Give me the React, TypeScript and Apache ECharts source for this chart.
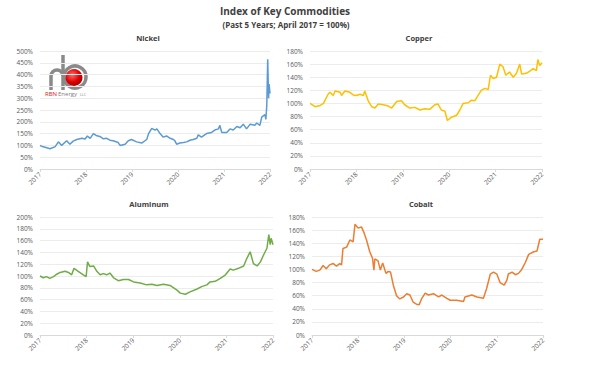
import React, { useEffect, useRef } from "react";
import * as echarts from "echarts";

// x values: years since April 2017 (0 = Apr 2017, 5 = Apr 2022); y values: % of April 2017
const nickelT = [0, 0.05, 0.11, 0.22, 0.33, 0.4, 0.47, 0.58, 0.65, 0.72, 0.8, 0.91, 0.98, 1.03, 1.09, 1.16, 1.22, 1.3, 1.38, 1.45, 1.52, 1.59, 1.7, 1.74, 1.85, 1.92, 1.99, 2.1, 2.21, 2.32, 2.36, 2.43, 2.5, 2.54, 2.61, 2.68, 2.75, 2.83, 2.9, 2.93, 2.97, 3.04, 3.12, 3.19, 3.26, 3.33, 3.41, 3.44, 3.51, 3.62, 3.73, 3.8, 3.88, 3.91, 3.95, 4.06, 4.13, 4.2, 4.28, 4.35, 4.42, 4.49, 4.57, 4.67, 4.71, 4.78, 4.82, 4.89, 4.91, 4.93, 4.95, 4.97, 4.98, 5.0];
const nickelV = [100, 95, 92, 86, 95, 115, 100, 120, 105, 118, 125, 130, 127, 140, 130, 150, 142, 138, 128, 130, 122, 120, 112, 100, 105, 120, 125, 115, 110, 125, 150, 172, 165, 170, 150, 135, 140, 130, 125, 120, 105, 110, 112, 115, 122, 125, 130, 145, 135, 150, 155, 165, 170, 185, 155, 155, 170, 165, 180, 175, 190, 170, 190, 185, 195, 185, 220, 230, 210, 270, 465, 300, 360, 320];

const copperT = [0, 0.11, 0.22, 0.29, 0.39, 0.43, 0.5, 0.54, 0.65, 0.68, 0.75, 0.86, 0.93, 1.0, 1.08, 1.15, 1.18, 1.26, 1.33, 1.4, 1.47, 1.58, 1.69, 1.76, 1.87, 1.97, 2.04, 2.15, 2.26, 2.37, 2.47, 2.58, 2.69, 2.76, 2.83, 2.91, 2.96, 3.05, 3.16, 3.23, 3.3, 3.41, 3.48, 3.55, 3.62, 3.69, 3.77, 3.84, 3.89, 3.95, 4.02, 4.09, 4.16, 4.22, 4.3, 4.38, 4.45, 4.52, 4.56, 4.66, 4.73, 4.81, 4.88, 4.91, 4.95, 5.0];
const copperV = [100, 95, 97, 100, 114, 117, 112, 119, 117, 112, 119, 117, 113, 112, 114, 112, 119, 103, 95, 93, 99, 98, 96, 93, 103, 104, 98, 93, 94, 90, 92, 91, 98, 99, 90, 88, 74, 79, 82, 90, 100, 101, 105, 104, 112, 120, 123, 121, 143, 138, 140, 160, 156, 143, 148, 140, 146, 160, 145, 146, 149, 153, 150, 167, 158, 162];

const aluminumT = [0, 0.07, 0.14, 0.21, 0.29, 0.36, 0.43, 0.54, 0.61, 0.68, 0.73, 0.82, 0.93, 0.99, 1.02, 1.07, 1.15, 1.22, 1.29, 1.36, 1.43, 1.5, 1.58, 1.68, 1.79, 1.9, 2.01, 2.15, 2.29, 2.4, 2.51, 2.65, 2.79, 2.94, 3.01, 3.12, 3.22, 3.37, 3.47, 3.58, 3.65, 3.76, 3.87, 3.98, 4.08, 4.15, 4.26, 4.37, 4.44, 4.51, 4.58, 4.66, 4.73, 4.8, 4.87, 4.91, 4.94, 4.96, 5.0];
const aluminumV = [100, 97, 99, 96, 99, 103, 106, 108, 106, 102, 113, 108, 102, 99, 124, 116, 117, 108, 102, 104, 102, 105, 97, 92, 94, 94, 90, 88, 85, 86, 84, 86, 84, 76, 71, 69, 73, 78, 82, 85, 90, 91, 96, 102, 112, 110, 113, 117, 130, 141, 121, 117, 124, 136, 147, 170, 153, 164, 153];

const cobaltT = [0, 0.09, 0.17, 0.24, 0.31, 0.38, 0.46, 0.53, 0.6, 0.64, 0.67, 0.75, 0.82, 0.89, 0.93, 1.0, 1.07, 1.12, 1.18, 1.25, 1.31, 1.34, 1.36, 1.43, 1.48, 1.53, 1.6, 1.65, 1.7, 1.76, 1.83, 1.9, 1.98, 2.05, 2.12, 2.19, 2.26, 2.32, 2.37, 2.45, 2.52, 2.63, 2.74, 2.81, 2.92, 2.99, 3.13, 3.28, 3.31, 3.46, 3.57, 3.71, 3.78, 3.86, 3.93, 4.0, 4.07, 4.16, 4.22, 4.25, 4.33, 4.4, 4.47, 4.54, 4.62, 4.69, 4.8, 4.87, 4.93, 5.0];
const cobaltV = [100, 97, 99, 106, 101, 107, 109, 105, 109, 107, 132, 134, 145, 142, 169, 163, 165, 157, 145, 127, 117, 99, 116, 113, 99, 110, 94, 97, 96, 76, 60, 55, 58, 63, 61, 50, 47, 46, 55, 64, 61, 63, 58, 61, 56, 53, 53, 51, 58, 61, 58, 56, 71, 93, 96, 93, 80, 76, 84, 93, 96, 92, 94, 100, 111, 123, 127, 128, 146, 146];

const yearLabels = ["2017", "2018", "2019", "2020", "2021", "2022"];
const panelTitles = ["Nickel", "Copper", "Aluminum", "Cobalt"];
const panelMax = [500, 180, 200, 180];
const panelInterval = [50, 20, 20, 20];
const panelColors = ["#5B9BD5", "#FFC000", "#70AD47", "#ED7D31"];

const grids = [
  { left: 40, top: 51, width: 230, height: 118 },
  { left: 310, top: 51, width: 232, height: 118 },
  { left: 40, top: 217, width: 233, height: 118 },
  { left: 312, top: 217, width: 231, height: 118 },
];
const titlePos = [
  [148, 38],
  [419, 38],
  [149, 204],
  [421, 204],
];

const seriesT = [nickelT, copperT, aluminumT, cobaltT];
const seriesV = [nickelV, copperV, aluminumV, cobaltV];

export default function App() {
  const ref = useRef<HTMLDivElement>(null);
  useEffect(() => {
    document.body.style.margin = "0";
    const chart = echarts.init(ref.current!, null, { renderer: "svg" });
    const labelColor = "#595959";
    const font = "'Open Sans', 'Liberation Sans', sans-serif";
    const xAxis = grids.map((_, i) => ({
      type: "value",
      gridIndex: i,
      min: 0,
      max: 5,
      interval: 1,
      axisLine: { show: true, lineStyle: { color: "#d9d9d9", width: 1 } },
      axisTick: { show: true, length: 3, lineStyle: { color: "#d9d9d9" } },
      splitLine: { show: false },
      axisLabel: {
        rotate: 45,
        fontSize: 6.5,
        color: labelColor,
        fontFamily: font,
        margin: 4,
        formatter: (v: number) => yearLabels[Math.round(v)] ?? "",
      },
    }));
    const yAxis = grids.map((_, i) => ({
      type: "value",
      gridIndex: i,
      min: 0,
      max: panelMax[i],
      interval: panelInterval[i],
      axisLine: { show: false },
      axisTick: { show: false },
      splitLine: { show: true, lineStyle: { color: "#ececec", width: 1 } },
      axisLabel: {
        fontSize: 6.5,
        color: labelColor,
        fontFamily: font,
        margin: 7,
        formatter: "{value}%",
      },
    }));
    const series = grids.map((_, i) => ({
      type: "line",
      xAxisIndex: i,
      yAxisIndex: i,
      showSymbol: false,
      symbol: "none",
      lineStyle: { color: panelColors[i], width: 1.5 },
      data: seriesT[i].map((t, k) => [t, seriesV[i][k]]),
    }));

    const pipe = new echarts.graphic.LinearGradient(0, 0, 1, 0, [
      { offset: 0, color: "#6e6e6e" },
      { offset: 0.5, color: "#a8a8a8" },
      { offset: 1, color: "#6e6e6e" },
    ]);
    const gray = "#8a8a8a";
    const graphic: any[] = [
      {
        type: "text",
        style: {
          text: "Index of Key Commodities",
          x: 285,
          y: 11,
          textAlign: "center",
          textVerticalAlign: "middle",
          fontSize: 10,
          fontWeight: "bold",
          fill: "#404040",
          fontFamily: font,
        },
      },
      {
        type: "text",
        style: {
          text: "(Past 5 Years; April 2017 = 100%)",
          x: 286,
          y: 24,
          textAlign: "center",
          textVerticalAlign: "middle",
          fontSize: 8,
          fontWeight: "bold",
          fill: "#404040",
          fontFamily: font,
        },
      },
      ...panelTitles.map((t, i) => ({
        type: "text",
        style: {
          text: t,
          x: titlePos[i][0],
          y: titlePos[i][1],
          textAlign: "center",
          textVerticalAlign: "middle",
          fontSize: 7.5,
          fontWeight: "bold",
          fill: "#404040",
          fontFamily: font,
        },
      })),
      // logo
      {
        type: "line",
        shape: { x1: 51, y1: 90, x2: 51, y2: 76 },
        style: { stroke: gray, lineWidth: 3.5 },
      },
      {
        type: "arc",
        shape: { cx: 57, cy: 76, r: 6, startAngle: Math.PI, endAngle: Math.PI * 2, clockwise: true },
        style: { stroke: gray, lineWidth: 3.5, fill: "none" },
      },
      {
        type: "line",
        shape: { x1: 63, y1: 55, x2: 63, y2: 90 },
        style: { stroke: gray, lineWidth: 3.5 },
      },
      {
        type: "circle",
        shape: { cx: 75, cy: 77, r: 11 },
        style: { stroke: gray, lineWidth: 3.5, fill: "none" },
      },
      {
        type: "circle",
        shape: { cx: 74, cy: 77.5, r: 8.5 },
        style: {
          fill: new echarts.graphic.RadialGradient(0.4, 0.35, 0.7, [
            { offset: 0, color: "#ff6b6b" },
            { offset: 0.6, color: "#e00000" },
            { offset: 1, color: "#a00000" },
          ]),
        },
      },
      {
        type: "text",
        style: {
          text: "RBN",
          x: 45,
          y: 94,
          textVerticalAlign: "middle",
          fontSize: 6,
          fill: "#e02020",
          fontFamily: font,
        },
      },
      {
        type: "text",
        style: {
          text: "Energy",
          x: 58,
          y: 94,
          textVerticalAlign: "middle",
          fontSize: 6,
          fill: "#808080",
          fontFamily: font,
        },
      },
      {
        type: "text",
        style: {
          text: "LLC",
          x: 80,
          y: 94.5,
          textVerticalAlign: "middle",
          fontSize: 3.5,
          fill: "#808080",
          fontFamily: font,
        },
      },
    ];

    chart.setOption({
      animation: false,
      backgroundColor: "#ffffff",
      grid: grids.map((g) => ({ ...g, containLabel: false })),
      xAxis,
      yAxis,
      series,
      graphic,
    } as any);
    return () => chart.dispose();
  }, []);
  return (
    <div
      ref={ref}
      style={{ position: "absolute", left: 0, top: 0, width: 600, height: 383 }}
    />
  );
}
